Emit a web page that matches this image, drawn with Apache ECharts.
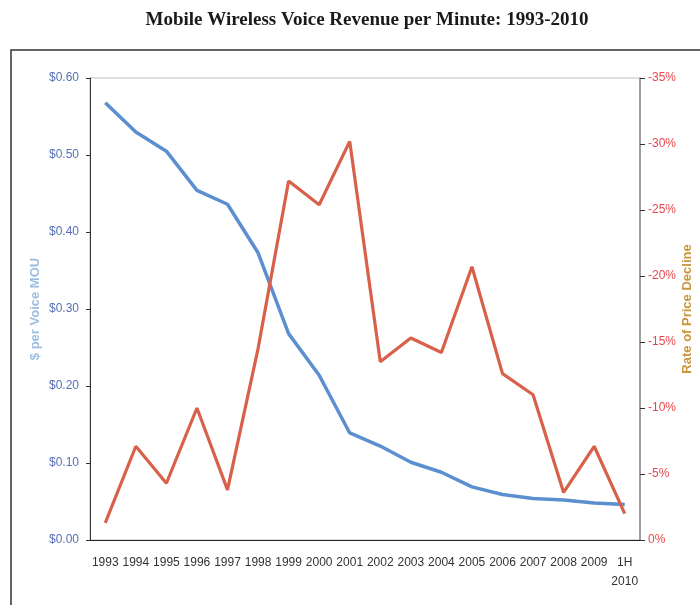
<!DOCTYPE html>
<html>
<head>
<meta charset="utf-8">
<script src="https://cdn.jsdelivr.net/npm/echarts@6/dist/echarts.min.js"></script>
<style>
  html, body { margin: 0; padding: 0; background: #fff; }
  #chart { width: 700px; height: 605px; }
</style>
</head>
<body>
<div id="chart"></div>
<script>
  // years on the x axis (last one is first half of 2010)
  var years = ['1993', '1994', '1995', '1996', '1997', '1998', '1999', '2000', '2001',
               '2002', '2003', '2004', '2005', '2006', '2007', '2008', '2009', '1H\n2010'];
  // $ per voice minute of use
  var revenuePerMin = [0.568, 0.530, 0.505, 0.454, 0.436, 0.373, 0.268, 0.214, 0.139,
                       0.122, 0.101, 0.088, 0.069, 0.059, 0.054, 0.052, 0.048, 0.046];
  // rate of price decline, percent (negative = decline)
  var priceDecline = [-1.3, -7.1, -4.3, -10.0, -3.8, -14.5, -27.2, -25.4, -30.2,
                      -13.5, -15.3, -14.2, -20.7, -12.6, -11.0, -3.6, -7.1, -2.0];

  var leftTicks = ['$0.00', '$0.10', '$0.20', '$0.30', '$0.40', '$0.50', '$0.60'];

  var narrow = '"Liberation Sans Narrow", "Arial Narrow", "Liberation Sans", Arial, sans-serif';

  var myChart = echarts.init(document.getElementById('chart'));

  var option = {
    backgroundColor: '#fff',
    animation: false,
    title: {
      text: 'Mobile Wireless Voice Revenue per Minute: 1993-2010',
      left: 362,
      top: 6,
      textAlign: 'center',
      textStyle: {
        fontFamily: '"Liberation Serif", "Times New Roman", serif',
        fontWeight: 'bold',
        fontSize: 19,
        color: '#1a1a1a'
      }
    },
    graphic: [{
      type: 'rect',
      shape: { x: 11, y: 50, width: 720, height: 600 },
      style: { fill: 'none', stroke: '#333', lineWidth: 1.5 },
      silent: true
    }],
    grid: {
      left: 90,
      right: 60,
      top: 78,
      bottom: 65,
      outerBoundsMode: 'none',
      containLabel: false,
      show: true,
      borderColor: '#bdbdbd',
      borderWidth: 1
    },
    xAxis: {
      type: 'category',
      data: years,
      boundaryGap: true,
      axisLine: { lineStyle: { color: '#222', width: 1 } },
      axisTick: { alignWithLabel: false, length: 5, lineStyle: { color: '#888' } },
      axisLabel: {
        interval: 0,
        margin: 13,
        fontFamily: narrow,
        fontSize: 12,
        lineHeight: 19,
        color: '#333'
      }
    },
    yAxis: [{
      type: 'value',
      min: 0,
      max: 0.6,
      interval: 0.1,
      position: 'left',
      name: '$ per Voice MOU',
      nameLocation: 'middle',
      nameRotate: 90,
      nameGap: 48,
      nameMoveOverlap: false,
      nameTextStyle: {
        fontFamily: '"Liberation Sans", Arial, sans-serif',
        fontWeight: 'bold',
        fontSize: 13,
        color: '#9dbde0'
      },
      splitLine: { show: false },
      axisLine: { show: true, lineStyle: { color: '#333' } },
      axisTick: { show: true, length: 4, lineStyle: { color: '#333' } },
      axisLabel: {
        margin: 11,
        fontFamily: narrow,
        fontSize: 12,
        color: '#5670b8',
        formatter: function (v) { return leftTicks[Math.round(v * 10)]; }
      }
    }, {
      type: 'value',
      min: -35,
      max: 0,
      interval: 5,
      inverse: true,
      position: 'right',
      name: 'Rate of Price Decline',
      nameLocation: 'middle',
      nameRotate: 90,
      nameGap: 41,
      nameMoveOverlap: false,
      nameTextStyle: {
        fontFamily: '"Liberation Sans", Arial, sans-serif',
        fontWeight: 'bold',
        fontSize: 13,
        color: '#c9963c'
      },
      splitLine: { show: false },
      axisLine: { show: true, lineStyle: { color: '#8a8a8a', width: 1.5 } },
      axisTick: { show: true, length: 5, lineStyle: { color: '#333' } },
      axisLabel: {
        margin: 8,
        fontFamily: narrow,
        fontSize: 12,
        color: '#e8474d',
        formatter: '{value}%'
      }
    }],
    series: [{
      name: '$ per Voice MOU',
      type: 'line',
      yAxisIndex: 0,
      data: revenuePerMin,
      symbol: 'none',
      lineStyle: { color: '#5b8fd0', width: 3.5 },
      z: 2
    }, {
      name: 'Rate of Price Decline',
      type: 'line',
      yAxisIndex: 1,
      data: priceDecline,
      symbol: 'none',
      lineStyle: { color: '#d9604a', width: 3.2 },
      z: 3
    }]
  };

  myChart.setOption(option, true);
</script>
</body>
</html>
